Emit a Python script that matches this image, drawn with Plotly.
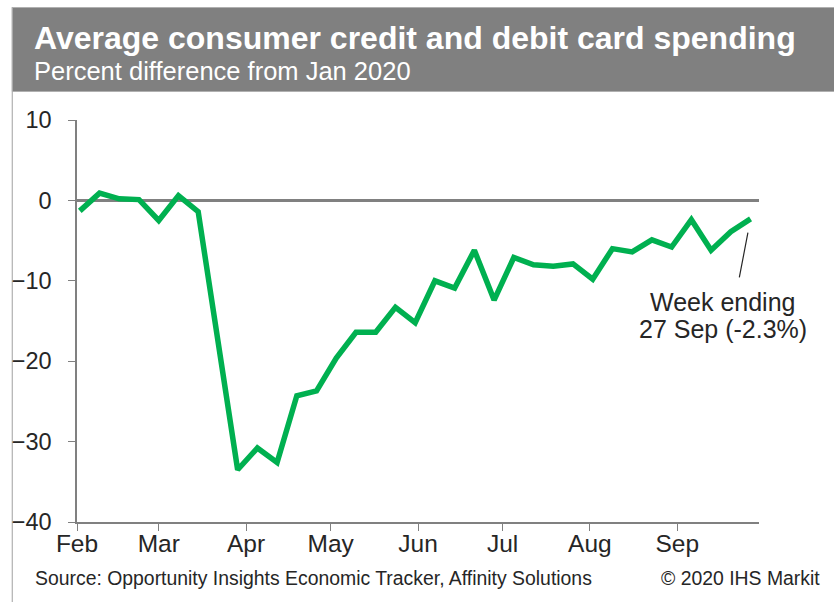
import plotly.graph_objects as go

# ---- data ----
week_ending = [
    "2020-02-02", "2020-02-09", "2020-02-16", "2020-02-23", "2020-03-01",
    "2020-03-08", "2020-03-15", "2020-03-22", "2020-03-29", "2020-04-05",
    "2020-04-12", "2020-04-19", "2020-04-26", "2020-05-03", "2020-05-10",
    "2020-05-17", "2020-05-24", "2020-05-31", "2020-06-07", "2020-06-14",
    "2020-06-21", "2020-06-28", "2020-07-05", "2020-07-12", "2020-07-19",
    "2020-07-26", "2020-08-02", "2020-08-09", "2020-08-16", "2020-08-23",
    "2020-08-30", "2020-09-06", "2020-09-13", "2020-09-20", "2020-09-27",
]
spending_pct = [
    -1.3, 0.9, 0.2, 0.1, -2.5,
    0.6, -1.4, -17.5, -33.5, -30.8,
    -32.6, -24.3, -23.7, -19.6, -16.4,
    -16.4, -13.3, -15.2, -10.0, -10.9,
    -6.2, -12.4, -7.1, -8.0, -8.2,
    -7.9, -9.8, -6.0, -6.4, -4.9,
    -5.8, -2.4, -6.2, -3.9, -2.3,
]
month_ticks = ["2020-02-01", "2020-03-01", "2020-04-01", "2020-05-01",
               "2020-06-01", "2020-07-01", "2020-08-01", "2020-09-01"]
month_labels = ["Feb", "Mar", "Apr", "May", "Jun", "Jul", "Aug", "Sep"]
y_ticks = [10, 0, -10, -20, -30, -40]

title = "Average consumer credit and debit card spending"
subtitle = "Percent difference from Jan 2020"
source = "Source: Opportunity Insights Economic Tracker, Affinity Solutions"
copyright_txt = "© 2020 IHS Markit"

FONT = "Liberation Sans, Arial, sans-serif"
GREEN = "#00B050"
GREY = "#808080"
TXT = "#262626"

W, H = 834, 602
ML, MR, MT, MB = 74, 75, 120, 80
PW = W - ML - MR
PH = H - MT - MB


def px_x(px):
    return (px - ML) / PW


def px_y(py):
    return (H - MB - py) / PH


fig = go.Figure()
fig.add_trace(go.Scatter(
    x=week_ending, y=spending_pct, mode="lines",
    line=dict(color=GREEN, width=5.5), hoverinfo="skip", showlegend=False,
))

fig.update_layout(
    width=W, height=H,
    margin=dict(l=ML, r=MR, t=MT, b=MB, pad=0),
    paper_bgcolor="white", plot_bgcolor="white",
    font=dict(family=FONT, color=TXT, size=23),
    showlegend=False,
    xaxis=dict(
        type="date", range=["2020-02-01", "2020-09-30"],
        tickvals=month_ticks, ticktext=month_labels,
        ticks="outside", ticklen=7, tickwidth=1.3, tickcolor=GREY,
        showline=True, linecolor=GREY, linewidth=1.5,
        showgrid=False, zeroline=False,
        tickfont=dict(size=24.5, color=TXT),
        ticklabelstandoff=-8,
    ),
    yaxis=dict(
        range=[-40, 10], tickvals=y_ticks,
        ticks="outside", ticklen=7, tickwidth=1.3, tickcolor=GREY,
        showline=True, linecolor=GREY, linewidth=1.5,
        showgrid=False, zeroline=True, zerolinecolor=GREY, zerolinewidth=2.5,
        tickfont=dict(size=23.5, color=TXT),
        ticklabelstandoff=12,
    ),
)

# outer frame and title band
fig.add_shape(type="rect", xref="paper", yref="paper", layer="below",
              x0=px_x(9), x1=px_x(845), y0=px_y(615), y1=px_y(7.5),
              line=dict(color="#b0b0b0", width=1.2), fillcolor="rgba(0,0,0,0)")
fig.add_shape(type="rect", xref="paper", yref="paper", layer="below",
              x0=px_x(9), x1=px_x(845), y0=px_y(91.5), y1=px_y(7.5),
              line=dict(color="#b0b0b0", width=1), fillcolor=GREY)

fig.add_annotation(xref="paper", yref="paper", x=px_x(29), y=px_y(38),
                   xanchor="left", yanchor="middle", showarrow=False,
                   text="<b>" + title + "</b>",
                   font=dict(family=FONT, size=32, color="white"))
fig.add_annotation(xref="paper", yref="paper", x=px_x(29), y=px_y(71),
                   xanchor="left", yanchor="middle", showarrow=False,
                   text=subtitle,
                   font=dict(family=FONT, size=25.5, color="white"))

# footer
fig.add_annotation(xref="paper", yref="paper", x=px_x(30), y=px_y(578),
                   xanchor="left", yanchor="middle", showarrow=False,
                   text=source, font=dict(family=FONT, size=19.4, color=TXT))
fig.add_annotation(xref="paper", yref="paper", x=px_x(822), y=px_y(578),
                   xanchor="right", yanchor="middle", showarrow=False,
                   text=copyright_txt, font=dict(family=FONT, size=19.4, color=TXT))

# callout for the last week
last_x, last_y = week_ending[-1], spending_pct[-1]
fig.add_annotation(x=last_x, y=last_y, text="", showarrow=True,
                   arrowhead=0, arrowwidth=1.2, arrowcolor=TXT,
                   ax=-11.5, ay=60, standoff=14)
fig.add_annotation(x=last_x, y=last_y, text="Week ending", showarrow=False,
                   xanchor="center", yanchor="middle",
                   xshift=-28, yshift=-83,
                   font=dict(family=FONT, size=25, color=TXT))
fig.add_annotation(x=last_x, y=last_y, text="27 Sep (-%.1f%%)" % abs(last_y),
                   showarrow=False, xanchor="center", yanchor="middle",
                   xshift=-28, yshift=-110,
                   font=dict(family=FONT, size=25, color=TXT))

fig.write_html("out.html")
